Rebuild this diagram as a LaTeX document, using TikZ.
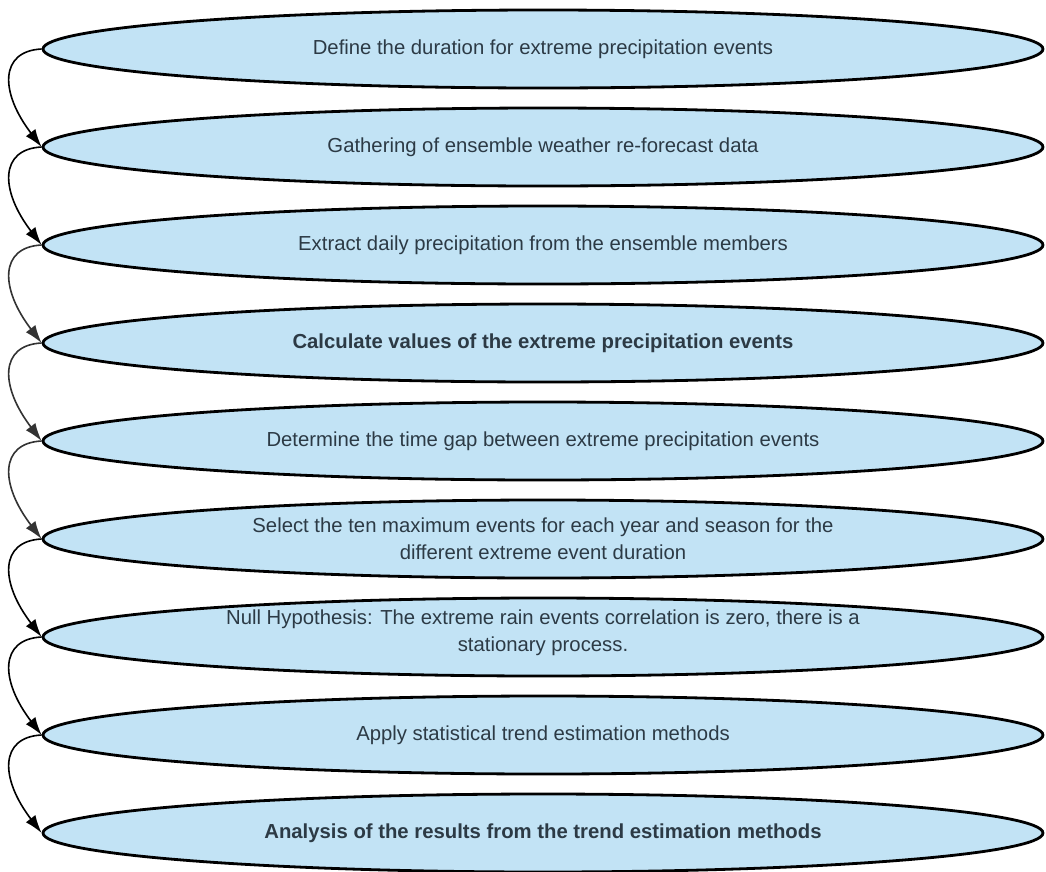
\documentclass[tikz,border=0pt]{standalone}
\usepackage{fontspec}
\setmainfont{Liberation Sans}
\usetikzlibrary{chains,shapes,arrows.meta,positioning}
\definecolor{stagefill}{HTML}{C2E3F5}
\definecolor{stagetext}{HTML}{2C3A45}

\begin{document}
\begin{tikzpicture}[x=1pt,y=1pt,
	stage/.style={ellipse,draw,line width=2.8pt,fill=stagefill,minimum width=1000pt,minimum height=78pt,inner sep=0pt,text=stagetext,align=center,font=\fontsize{20.3}{27}\selectfont},
	link/.style={-{Latex[length=18pt,width=12pt]},line width=1.6pt}]
	\useasboundingbox (0,0) rectangle (1046,-871);

	%%% Stages
	\begin{scope}[start chain=going below,node distance=17.2pt]
	\node[stage,on chain] (s1) at (543,-49) {Define the duration for extreme precipitation events};
	\node[stage,on chain] (s2) {Gathering of ensemble weather re-forecast data};
	\node[stage,on chain] (s3) {Extract daily precipitation from the ensemble members};
	\node[stage,on chain,font=\fontsize{20.3}{27}\selectfont\bfseries] (s4) {Calculate values of the extreme precipitation events};
	\node[stage,on chain] (s5) {Determine the time gap between extreme precipitation events};
	\node[stage,on chain] (s6) {Select the ten maximum events for each year and season for the\\different extreme event duration};
	\node[stage,on chain] (s7) {Null Hypothesis: The extreme rain events correlation is zero, there is a\\stationary process.\vspace{8pt}};
	\node[stage,on chain] (s8) {Apply statistical trend estimation methods};
	\node[stage,on chain,font=\fontsize{20.3}{27}\selectfont\bfseries] (s9) {Analysis of the results from the trend estimation methods};
	\end{scope}

	%% Frecce
	\draw[link] (s1.west) .. controls +(-42,-2) and +(-42,55) .. (s2.west);
	\draw[link] (s2.west) .. controls +(-42,-2) and +(-42,55) .. (s3.west);
	\draw[link,black!80] (s3.west) .. controls +(-42,-2) and +(-42,55) .. (s4.west);
	\draw[link,black!80] (s4.west) .. controls +(-42,-2) and +(-42,55) .. (s5.west);
	\draw[link,black!80] (s5.west) .. controls +(-42,-2) and +(-42,55) .. (s6.west);
	\draw[link] (s6.west) .. controls +(-42,-2) and +(-42,55) .. (s7.west);
	\draw[link] (s7.west) .. controls +(-42,-2) and +(-42,55) .. (s8.west);
	\draw[link] (s8.west) .. controls +(-42,-2) and +(-42,55) .. (s9.west);
\end{tikzpicture}
\end{document}
